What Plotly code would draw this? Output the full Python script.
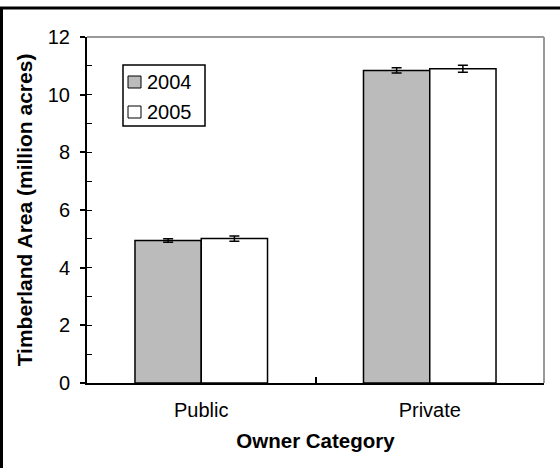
import plotly.graph_objects as go

categories = ["Public", "Private"]
years = ["2004", "2005"]
area_2004 = [4.94, 10.84]
area_2005 = [5.01, 10.90]
err_2004 = [0.06, 0.09]
err_2005 = [0.09, 0.12]
y_ticks = [0, 2, 4, 6, 8, 10, 12]
bar_colors = ["#BBBBBB", "white"]

FONT = "Liberation Sans, Arial, sans-serif"
W, H = 560, 468
L, R, T, B = 87, 16, 37, 85
PW, PH = W - L - R, H - T - B


def px(x):
    return (x - L) / PW


def py(y):
    return (H - B - y) / PH


fig = go.Figure()
for name, vals, errs, col in zip(years, [area_2004, area_2005], [err_2004, err_2005], bar_colors):
    fig.add_trace(go.Bar(
        name=name, x=categories, y=vals,
        marker=dict(color=col, line=dict(color="black", width=1.5)),
        error_y=dict(type="data", array=errs, color="black", thickness=1.5, width=5),
        showlegend=False,
    ))

shapes = [
    # outer chart frame (only left and top edges visible)
    dict(type="rect", xref="paper", yref="paper", x0=px(1.5), x1=px(W + 20), y0=py(H + 20), y1=py(8),
         line=dict(color="black", width=3), fillcolor="rgba(0,0,0,0)", layer="below"),
    # plot area frame (grey top/right)
    dict(type="line", xref="paper", yref="paper", x0=0, x1=1, y0=1, y1=1,
         line=dict(color="#999999", width=2)),
    dict(type="line", xref="paper", yref="paper", x0=1, x1=1, y0=0, y1=1,
         line=dict(color="#999999", width=2)),
    # legend box
    dict(type="rect", xref="paper", yref="paper", x0=px(123), x1=px(205), y0=py(126), y1=py(65),
         line=dict(color="black", width=1.5), fillcolor="white", layer="above"),
]
annotations = []
for i, (name, col) in enumerate(zip(years, bar_colors)):
    top = 76 + 30 * i
    shapes.append(dict(type="rect", xref="paper", yref="paper",
                       x0=px(128), x1=px(141), y0=py(top + 12), y1=py(top),
                       line=dict(color="black", width=1), fillcolor=col, layer="above"))
    annotations.append(dict(xref="paper", yref="paper", x=px(145), y=py(top + 6),
                            xanchor="left", yanchor="middle", text=name, showarrow=False,
                            font=dict(size=20, family=FONT, color="black")))

fig.update_layout(
    width=W, height=H,
    margin=dict(l=L, r=R, t=T, b=B),
    paper_bgcolor="white", plot_bgcolor="white",
    barmode="group", bargap=0.42, bargroupgap=0,
    font=dict(family=FONT, size=20, color="black"),
    showlegend=False,
    xaxis=dict(
        showline=True, linecolor="black", linewidth=2,
        ticks="inside", ticklen=6, tickwidth=2, tickcolor="black",
        tickson="boundaries", showgrid=False, zeroline=False,
        ticklabelstandoff=8,
        title=dict(text="<b>Owner Category</b>", font=dict(size=20.5), standoff=14),
    ),
    yaxis=dict(
        range=[0, 12], tickvals=y_ticks,
        showline=True, linecolor="black", linewidth=2,
        ticks="outside", ticklen=5, tickwidth=1.5, tickcolor="black",
        minor=dict(dtick=1, ticks="inside", ticklen=5, tickwidth=1, tickcolor="black", showgrid=False),
        showgrid=False, zeroline=False,
        ticklabelstandoff=6,
        title=dict(text="<b>Timberland Area (million acres)</b>", font=dict(size=21), standoff=9),
    ),
    shapes=shapes,
    annotations=annotations,
)

fig.write_html("out.html", config={"displayModeBar": False},
               post_script="document.body.style.margin='0';")
